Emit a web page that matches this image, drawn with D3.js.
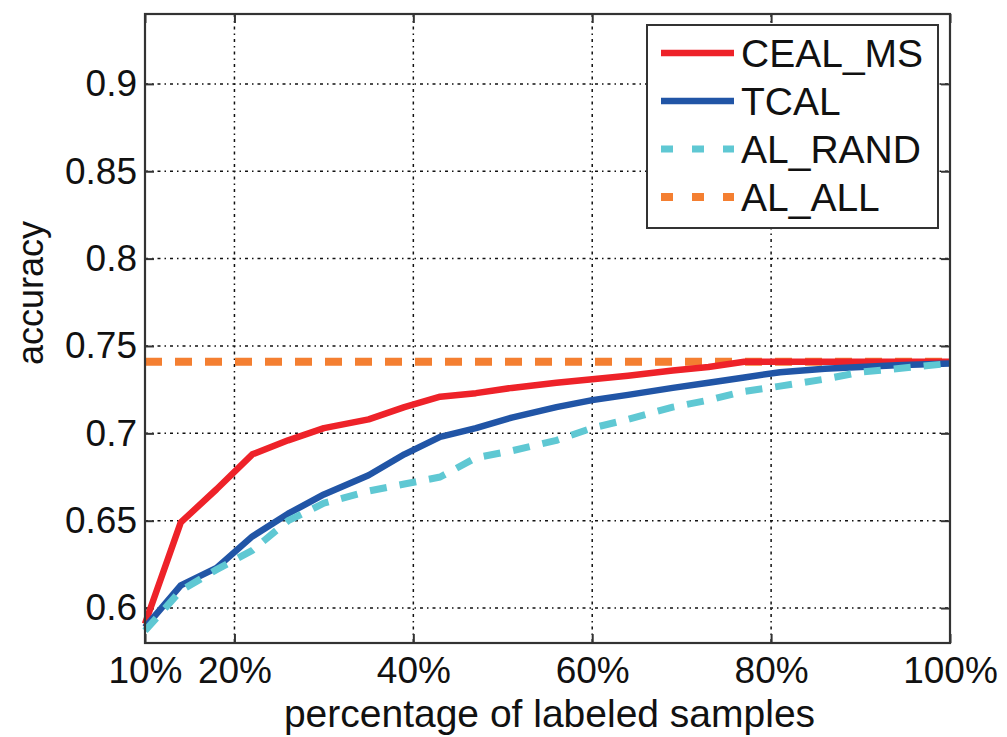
<!DOCTYPE html>
<html>
<head>
<meta charset="utf-8">
<script src="https://cdn.jsdelivr.net/npm/d3@7"></script>
<style>
  html, body { margin: 0; padding: 0; background: #fff; }
  svg { display: block; font-family: "Liberation Sans", Arial, Helvetica, sans-serif; }
</style>
</head>
<body>
<svg id="chart" width="1007" height="737"></svg>
<script>
// Percentage of labeled samples (x positions of the curve vertices)
const labeledPct = [10, 14, 18, 22, 26, 30, 35, 39, 43, 47, 51, 56, 60, 64, 69, 73, 77, 81, 86, 90, 94, 100];

// Accuracy of each method
const cealMs = [0.591, 0.649, 0.668, 0.688, 0.696, 0.703, 0.708, 0.715, 0.721, 0.723, 0.726, 0.729, 0.731, 0.733, 0.736, 0.738, 0.741, 0.741, 0.741, 0.741, 0.741, 0.741];
const tcal   = [0.589, 0.613, 0.623, 0.641, 0.654, 0.665, 0.676, 0.688, 0.698, 0.703, 0.709, 0.715, 0.719, 0.722, 0.726, 0.729, 0.732, 0.735, 0.737, 0.738, 0.739, 0.740];
const alRand = [0.587, 0.610, 0.622, 0.633, 0.650, 0.660, 0.667, 0.671, 0.675, 0.686, 0.690, 0.696, 0.703, 0.708, 0.715, 0.719, 0.724, 0.727, 0.731, 0.735, 0.737, 0.740];
const alAll  = 0.741; // accuracy with all samples labeled

// Axis ticks
const xTicks = [10, 20, 40, 60, 80, 100];
const yTicks = [0.6, 0.65, 0.7, 0.75, 0.8, 0.85, 0.9];

const seriesNames = ["CEAL_MS", "TCAL", "AL_RAND", "AL_ALL"];

const svg = d3.select("#chart");
const plotLeft = 145, plotRight = 950, plotTop = 14, plotBottom = 643;

const x = d3.scaleLinear().domain([10, 100]).range([plotLeft, plotRight]);
const y = d3.scaleLinear().domain([0.58, 0.94]).range([plotBottom, plotTop]);

const ink = "#333";

// grid
const grid = svg.append("g")
  .attr("stroke", "#111").attr("stroke-width", 1.5)
  .attr("stroke-dasharray", "3,4,1.5,4");
grid.selectAll("line.gx").data(xTicks.filter(d => d > 10 && d < 100)).join("line")
  .attr("x1", d => x(d)).attr("x2", d => x(d)).attr("y1", plotTop).attr("y2", plotBottom);
grid.selectAll("line.gy").data(yTicks).join("line")
  .attr("x1", plotLeft).attr("x2", plotRight).attr("y1", d => y(d)).attr("y2", d => y(d));

// axes (ticks pointing inward, on all four sides)
const tick = 9;
const xAxisB = d3.axisBottom(x).tickValues(xTicks).tickSize(-tick).tickPadding(14).tickFormat(d => d + "%");
const xAxisT = d3.axisTop(x).tickValues(xTicks).tickSize(-tick).tickFormat("");
const yAxisL = d3.axisLeft(y).tickValues(yTicks).tickSize(-tick).tickPadding(8).tickFormat(d => String(d));
const yAxisR = d3.axisRight(y).tickValues(yTicks).tickSize(-tick).tickFormat("");

function styleAxis(g) {
  g.select(".domain").remove();
  g.selectAll(".tick line").attr("stroke", ink).attr("stroke-width", 2);
  g.selectAll(".tick text").attr("fill", "#111").attr("font-size", 37)
    .attr("font-family", "\"Liberation Sans\", Arial, sans-serif");
}
svg.append("g").attr("transform", `translate(0,${plotBottom})`).call(xAxisB).call(styleAxis);
svg.append("g").attr("transform", `translate(0,${plotTop})`).call(xAxisT).call(styleAxis);
svg.append("g").attr("transform", `translate(${plotLeft},0)`).call(yAxisL).call(styleAxis);
svg.append("g").attr("transform", `translate(${plotRight},0)`).call(yAxisR).call(styleAxis);

// data lines
const line = d3.line().x(d => x(d[0])).y(d => y(d[1]));
const pairs = vals => labeledPct.map((p, i) => [p, vals[i]]);

const styles = {
  "CEAL_MS": { color: "#ee2229", width: 6.5, dash: null },
  "TCAL":    { color: "#2155a6", width: 6.5, dash: null },
  "AL_RAND": { color: "#5fc8d3", width: 7, dash: "17,13" },
  "AL_ALL":  { color: "#f47f31", width: 8, dash: "17,13" }
};

const plot = svg.append("g");
const drawSeries = (name, pts) => {
  const s = styles[name];
  plot.append("path").datum(pts)
    .attr("d", line).attr("fill", "none")
    .attr("stroke", s.color).attr("stroke-width", s.width)
    .attr("stroke-linejoin", "round")
    .attr("stroke-dasharray", s.dash);
};
drawSeries("AL_ALL", [[10, alAll], [100, alAll]]);
drawSeries("CEAL_MS", pairs(cealMs));
drawSeries("TCAL", pairs(tcal));
drawSeries("AL_RAND", pairs(alRand));

// frame
svg.append("rect").attr("x", plotLeft).attr("y", plotTop)
  .attr("width", plotRight - plotLeft).attr("height", plotBottom - plotTop)
  .attr("fill", "none").attr("stroke", ink).attr("stroke-width", 2.2);

// axis titles
svg.append("text").attr("x", (plotLeft + plotRight) / 2 + 2).attr("y", 727)
  .attr("text-anchor", "middle").attr("font-size", 39).attr("fill", "#111")
  .text("percentage of labeled samples");
svg.append("text").attr("transform", "translate(43,293) rotate(-90)")
  .attr("text-anchor", "middle").attr("font-size", 36).attr("fill", "#111")
  .text("accuracy");

// legend
const lg = svg.append("g");
lg.append("rect").attr("x", 647).attr("y", 25).attr("width", 291).attr("height", 203)
  .attr("fill", "#fff").attr("stroke", ink).attr("stroke-width", 2);
seriesNames.forEach((name, i) => {
  const s = styles[name];
  const yy = 53 + i * 48;
  lg.append("line").attr("x1", 661).attr("x2", 734).attr("y1", yy).attr("y2", yy)
    .attr("stroke", s.color).attr("stroke-width", s.width)
    .attr("stroke-dasharray", s.dash ? "12,19" : null);
  lg.append("text").attr("x", 741).attr("y", yy + 14)
    .attr("font-size", 39).attr("fill", "#111").text(name);
});
</script>
</body>
</html>
